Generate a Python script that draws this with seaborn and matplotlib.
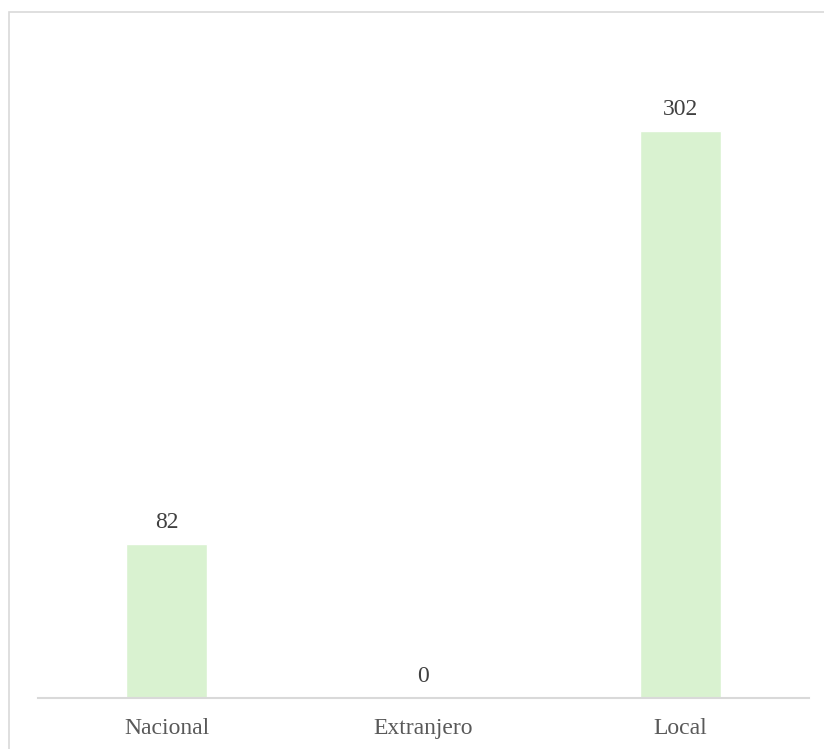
import matplotlib
matplotlib.use("Agg")
import matplotlib.pyplot as plt
import seaborn as sns
import pandas as pd
from matplotlib.patches import Rectangle

categories = ["Nacional", "Extranjero", "Local"]
values = [82, 0, 302]

sns.set_theme(style="white")
plt.rcParams['font.family'] = ['Liberation Serif', 'DejaVu Serif']

W, H = 824, 749
fig = plt.figure(figsize=(W / 100, H / 100), dpi=100)
fig.patch.set_facecolor("white")

# outer border (chart area frame)
fig.add_artist(Rectangle((8.5 / W, -0.05), 1.2, (H - 11.5) / H + 0.05,
                         transform=fig.transFigure, fill=False,
                         edgecolor="#D9D9D9", linewidth=1.2))

ax = fig.add_axes([38 / W, (H - 698) / H, (809 - 38) / W, (698 - 41) / H])

df = pd.DataFrame({"cat": categories, "val": values})
sns.barplot(data=df, x="cat", y="val", color="#D9F2D0", width=0.315,
            saturation=1, ax=ax)

ax.set_ylim(0, 350)
ax.set_xlim(-0.5, 2.5)
ax.set_xlabel("")
ax.set_ylabel("")
ax.set_yticks([])
for s in ["top", "right", "left"]:
    ax.spines[s].set_visible(False)
ax.spines["bottom"].set_color("#D9D9D9")
ax.spines["bottom"].set_linewidth(1.5)
ax.tick_params(axis="x", length=0, pad=14.5, labelsize=17, labelcolor="#595959")

for i, v in enumerate(values):
    ax.annotate(f"{v}", (i, v), xytext=(0, 8), textcoords="offset points",
                ha="center", va="bottom", fontsize=17, color="#404040")

fig.savefig("out.png", dpi=100)
